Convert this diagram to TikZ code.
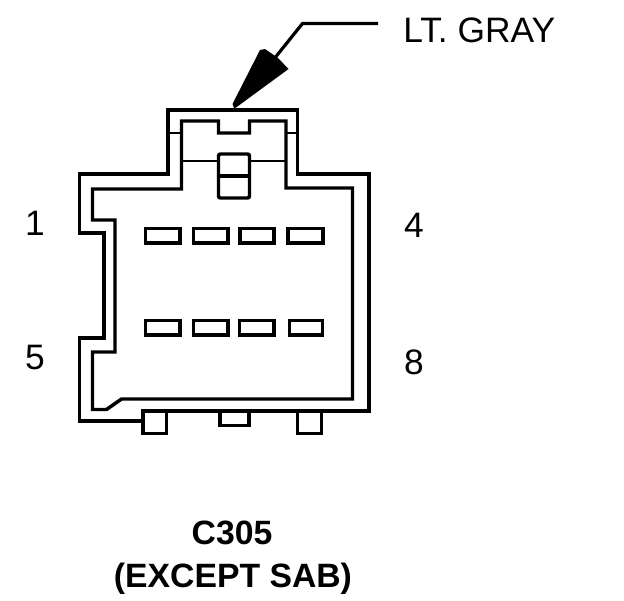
\documentclass[tikz,border=0pt]{standalone}
\usepackage{fontspec}
\setmainfont{Liberation Sans}
\tikzset{
  every picture/.style={x=0.75pt,y=-0.75pt},
  wire/.style={draw=black,line width=2.6pt,line join=miter},
  thin wire/.style={draw=black,line width=2.2pt},
  leader/.style={draw=black,line width=2.4pt},
  label/.style={inner sep=0pt,font=\fontsize{26.5}{30}\selectfont},
  title/.style={inner sep=0pt,anchor=base,font=\fontsize{25.3}{30}\selectfont\bfseries},
  pin/.style={draw=black,line width=2.6pt,fill=white}
}
\begin{document}
\begin{tikzpicture}
\useasboundingbox (0,0) rectangle (624,600);
% outer contour
\draw[wire] (79.5,174) -- (168,174) -- (168,110) -- (297.5,110) -- (297.5,174) -- (369,174)
  -- (369,411) -- (143,411) -- (143,421) -- (79.5,421) -- (79.5,338) -- (104,338)
  -- (104,233) -- (79.5,233) -- cycle;
% inner contour
\draw[wire] (92.5,189) -- (181.5,189) -- (181.5,121) -- (218.5,121) -- (218.5,133) -- (249.5,133)
  -- (249.5,121) -- (286,121) -- (286,188) -- (352.5,188) -- (352.5,399) -- (121.5,399)
  -- (106.5,409.5) -- (92.5,409.5) -- (92.5,352) -- (115,352) -- (115,220) -- (92.5,220) -- cycle;
% ties
\draw[thin wire] (168,133) -- (181.5,133);
\draw[thin wire] (286,133) -- (297.5,133);
\draw[thin wire] (181.5,161) -- (218.5,161);
\draw[thin wire] (249.5,161) -- (286,161);
% latch
\draw[wire,rounded corners=1.5pt] (218.5,154) rectangle (249.5,198);
\draw[wire] (218.5,176) -- (249.5,176);
% pins
\draw[pin] (145.5,228.5) rectangle (180,243);
\draw[pin] (193.5,228.5) rectangle (228,243);
\draw[pin] (240,228.5) rectangle (274,243);
\draw[pin] (288,228.5) rectangle (323,243);
\draw[pin] (145.5,320.5) rectangle (180,335);
\draw[pin] (193.5,320.5) rectangle (228,335);
\draw[pin] (239.5,320.5) rectangle (274,335);
\draw[pin] (289.5,320.5) rectangle (322.5,335);
% tabs
\draw[wire] (143,411) -- (143,433.5) -- (166.5,433.5) -- (166.5,411);
\draw[wire] (220,411) -- (220,425.5) -- (249,425.5) -- (249,411);
\draw[wire] (297.5,411) -- (297.5,433.5) -- (321.5,433.5) -- (321.5,411);
% labels
\node[label,anchor=base west] (color) at (403,42.5) {LT. GRAY};
\node[label] (p1) at (35,223) {1};
\node[label] (p4) at (414,225) {4};
\node[label] (p5) at (35,358) {5};
\node[label] (p8) at (414,362) {8};
\node[title] (code) at (232,544) {C305};
\node[title] (except) at (233,587) {(EXCEPT SAB)};
% arrow
\coordinate (bend) at (302.5,23.5);
\coordinate (tip) at (234,108);
\coordinate (end) at (378,23.5);
\draw[leader] (end) -- (bend) -- (270,64);
\fill[black] (tip) -- (232.5,104) -- (260,50) -- (265,49) -- (278,58) -- (288.5,69) -- (236,107.5) -- cycle;
\end{tikzpicture}
\end{document}
